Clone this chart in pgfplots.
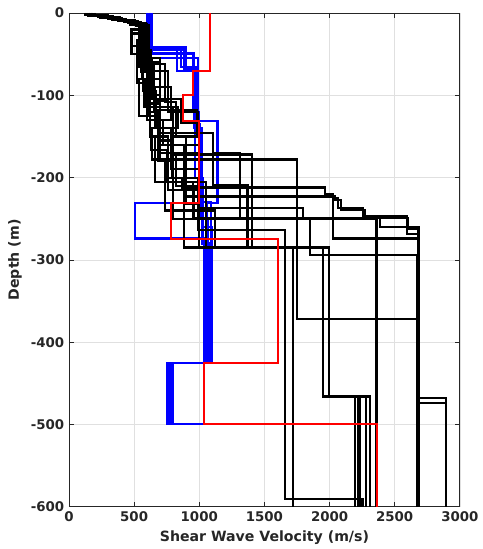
\documentclass[border=0pt]{standalone}
\usepackage{fontspec}
\setmainfont{DejaVu Sans}
\usepackage{pgfplots}
\pgfplotsset{compat=1.18}
\definecolor{axgray}{HTML}{262626}
\definecolor{gridgray}{HTML}{E0E0E0}
\pgfplotsset{prof/.style={const plot mark right, no markers, line width=1.6pt}}
\begin{document}
\begin{tikzpicture}
\begin{axis}[
  scale only axis, width=293.25pt, height=370.5pt,
  xmin=0, xmax=3000, ymin=-600, ymax=0,
  xtick={0,500,...,3000}, ytick={-600,-500,...,0},
  tick align=inside, major tick length=3.75pt,
  grid=major, major grid style={gridgray, line width=0.5pt},
  axis line style={axgray, line width=0.6pt},
  every tick/.style={axgray, line width=0.6pt},
  tick label style={font=\fontsize{10}{12}\selectfont\bfseries, text=axgray},
  label style={font=\fontsize{10.6}{12}\selectfont\bfseries, text=axgray},
  /pgf/number format/assume math mode=true,
  /pgf/number format/1000 sep={},
  scaled ticks=false,
  xlabel={Shear Wave Velocity (m/s)}, ylabel={Depth (m)},
]
% blue ensemble
\addplot[prof, blue] coordinates {(620,0)(830,-42)(980,-70)(1000,-131)(506,-231)(1040,-274)(760,-425)(1036,-499)};
\addplot[prof, blue] coordinates {(610,0)(900,-42)(990,-70)(1140,-131)(1060,-231)(790,-425)(1036,-499)};
\addplot[prof, blue] coordinates {(630,0)(960,-49)(1020,-140)(1090,-230)(800,-425)(1036,-499)};
\addplot[prof, blue] coordinates {(600,0)(880,-45)(970,-68)(1030,-200)(1100,-260)(770,-425)(1036,-499)};
\addplot[prof, blue] coordinates {(640,0)(950,-50)(1000,-120)(1050,-240)(780,-425)(1036,-499)};
\addplot[prof, blue] coordinates {(620,0)(990,-55)(1010,-150)(1070,-250)(750,-425)(1036,-499)};
\addplot[prof, blue] coordinates {(615,0)(860,-44)(975,-66)(1005,-135)(1025,-232)(1080,-280)(785,-425)(1036,-499)};
% black profiles
\addplot[prof, black] coordinates {(130,0)(220,-2)(330,-5)(450,-8)(560,-12)(480,-20)(560,-40)(700,-60)(620,-110)(760,-150)(990,-200)(1657,-264)(2253,-590)(2253,-600)};
\addplot[prof, black] coordinates {(160,0)(260,-3)(380,-6)(500,-10)(600,-14)(560,-42)(740,-62)(820,-108)(900,-150)(1000,-232)(1719,-285)(1719,-600)};
\addplot[prof, black] coordinates {(200,0)(300,-3)(420,-7)(540,-11)(590,-28)(520,-40)(650,-85)(980,-118)(800,-150)(1402,-172)(1950,-285)(2197,-466)(2197,-600)};
\addplot[prof, black] coordinates {(140,0)(240,-2)(360,-5)(480,-9)(580,-13)(530,-38)(700,-55)(580,-80)(840,-114)(640,-140)(1752,-178)(2675,-372)(2675,-600)};
\addplot[prof, black] coordinates {(180,0)(280,-2)(400,-6)(520,-10)(610,-15)(560,-48)(760,-70)(680,-118)(1105,-146)(1370,-209)(1995,-285)(2233,-466)(2233,-600)};
\addplot[prof, black] coordinates {(150,0)(240,-3)(350,-6)(470,-9)(590,-14)(640,-55)(600,-100)(720,-130)(1000,-160)(880,-215)(1995,-285)(2309,-466)(2309,-600)};
\addplot[prof, black] coordinates {(170,0)(270,-2)(390,-5)(510,-9)(600,-13)(580,-40)(640,-70)(860,-105)(1000,-134)(760,-170)(960,-215)(2356,-249)(2356,-600)};
\addplot[prof, black] coordinates {(190,0)(290,-3)(410,-6)(530,-10)(615,-15)(600,-60)(540,-80)(620,-125)(660,-150)(1050,-205)(1950,-285)(2280,-466)(2280,-600)};
\addplot[prof, black] coordinates {(120,0)(230,-2)(340,-4)(460,-8)(570,-12)(540,-30)(610,-65)(680,-125)(740,-180)(1120,-240)(1995,-285)(2215,-466)(2215,-600)};
\addplot[prof, black] coordinates {(150,0)(250,-2)(370,-5)(490,-8)(590,-12)(600,-40)(660,-90)(780,-140)(1000,-190)(2361,-250)(2361,-600)};
\addplot[prof, black] coordinates {(170,0)(280,-3)(400,-6)(520,-10)(600,-14)(620,-50)(700,-100)(880,-160)(1964,-211)(2028,-220)(2067,-225)(2259,-237)(2591,-247)(2685,-260)(2685,-600)};
\addplot[prof, black] coordinates {(135,0)(230,-2)(350,-5)(470,-9)(575,-13)(550,-35)(600,-72)(800,-114)(900,-190)(2028,-223)(2680,-274)(2893,-474)(2893,-600)};
\addplot[prof, black] coordinates {(165,0)(265,-3)(385,-6)(505,-10)(605,-15)(630,-45)(780,-90)(700,-130)(820,-170)(1000,-210)(1796,-237)(2386,-249)(2591,-260)(2685,-268)(2685,-600)};
\addplot[prof, black] coordinates {(145,0)(245,-2)(365,-6)(485,-9)(585,-13)(570,-50)(670,-95)(627,-140)(750,-166)(950,-205)(1849,-249)(2675,-294)(2893,-468)(2893,-600)};
\addplot[prof, black] coordinates {(125,0)(210,-2)(320,-4)(440,-7)(550,-11)(480,-25)(560,-50)(620,-80)(700,-120)(800,-180)(1000,-250)(1719,-285)(1719,-600)};
\addplot[prof, black] coordinates {(175,0)(275,-3)(395,-6)(515,-10)(600,-16)(650,-60)(760,-107)(990,-120)(1105,-146)(1312,-170)(2361,-250)(2361,-600)};
\addplot[prof, black] coordinates {(155,0)(255,-2)(375,-5)(495,-9)(595,-13)(520,-33)(600,-56)(700,-110)(790,-155)(870,-200)(1964,-213)(2040,-222)(2090,-227)(2270,-239)(2600,-249)(2680,-262)(2680,-600)};
% red profile
\addplot[prof, red, line width=1.5pt] coordinates {(1082,0)(952,-70)(877,-100)(998,-131)(782,-231)(1604,-274)(1036,-425)(2363,-499)(2363,-600)};
\end{axis}
\path ([xshift=-51.75pt,yshift=-31.5pt]current axis.south west) rectangle ([xshift=15.75pt,yshift=9.75pt]current axis.north east);
\end{tikzpicture}
\end{document}
